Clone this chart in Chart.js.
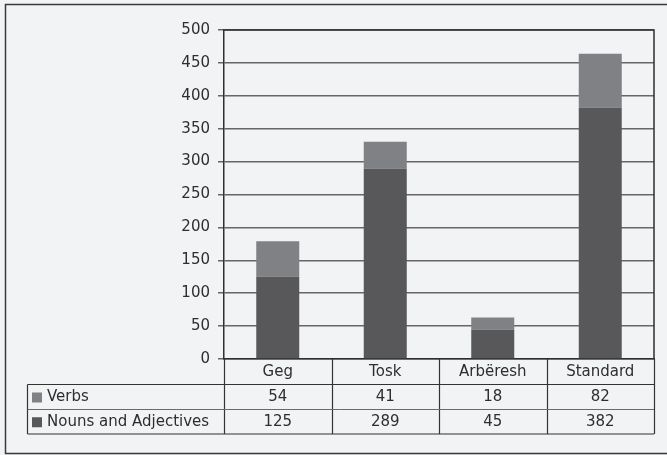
<!DOCTYPE html>
<html>
<head>
<meta charset="utf-8">
<script src="https://cdn.jsdelivr.net/npm/chart.js@4/dist/chart.umd.min.js"></script>
<style>
    body { margin: 0; background: #f2f3f5; }
    canvas { display: block; }
</style>
</head>
<body>
<canvas id="chart" width="667" height="455"></canvas>
<script>
// data
var categories = ["Geg", "Tosk", "Arbëresh", "Standard"];
var verbs = [54, 41, 18, 82];
var nounsAdj = [125, 289, 45, 382];
var yTicks = [0, 50, 100, 150, 200, 250, 300, 350, 400, 450, 500];

var FONT = "DejaVu Sans, Verdana, sans-serif";
var FONT_SIZE = 15;
var TEXT_COLOR = "#2e2e2e";
var VERB_COLOR = "#808184";
var NOUN_COLOR = "#58585a";

//rows of the data table under the chart (top row = Verbs)
var tableRows = [
    { label: "Verbs", color: VERB_COLOR, values: verbs },
    { label: "Nouns and Adjectives", color: NOUN_COLOR, values: nounsAdj }
];

var framePlugin = {
    id: "frame",
    beforeDraw(chart) {
        const ctx = chart.ctx;
        ctx.save();
        ctx.fillStyle = "#f2f3f5";
        ctx.fillRect(0, 0, chart.width, chart.height);
        //outer border
        ctx.strokeStyle = "#3a3a3a";
        ctx.lineWidth = 1.5;
        ctx.strokeRect(5.5, 4.5, chart.width + 10, 449);
        ctx.restore();
    },
    afterDraw(chart) {
        const ctx = chart.ctx;
        const area = chart.chartArea;
        const left = area.left, right = area.right;
        const colW = (right - left) / categories.length;
        const tableLeft = 27.5;
        const rowTops = [384.5, 409.5, 434];

        ctx.save();
        //plot frame (top + right)
        ctx.strokeStyle = "#2f2f2f";
        ctx.lineWidth = 1.5;
        ctx.beginPath();
        ctx.moveTo(left, area.top);
        ctx.lineTo(right, area.top);
        ctx.lineTo(right, area.bottom);
        ctx.stroke();

        //table lines
        ctx.lineWidth = 1.2;
        ctx.strokeStyle = "#333";
        ctx.beginPath();
        ctx.moveTo(tableLeft, rowTops[0]); ctx.lineTo(right, rowTops[0]);
        ctx.moveTo(tableLeft, rowTops[2]); ctx.lineTo(right, rowTops[2]);
        ctx.moveTo(tableLeft, rowTops[0]); ctx.lineTo(tableLeft, rowTops[2]);
        for (var i = 0; i <= categories.length; i++) {
            var x = Math.round(left + i * colW) + 0.5;
            ctx.moveTo(x, area.bottom);
            ctx.lineTo(x, rowTops[2]);
        }
        ctx.stroke();
        ctx.strokeStyle = "#6a6a6a";
        ctx.lineWidth = 1;
        ctx.beginPath();
        ctx.moveTo(tableLeft, rowTops[1]); ctx.lineTo(right, rowTops[1]);
        ctx.stroke();

        //row labels + values
        ctx.font = FONT_SIZE + "px " + FONT;
        ctx.textBaseline = "middle";
        tableRows.forEach((row, r) => {
            var cy = (rowTops[r] + rowTops[r + 1]) / 2 + 0.5;
            ctx.fillStyle = row.color;
            ctx.fillRect(32, cy - 5, 10, 10);
            ctx.fillStyle = TEXT_COLOR;
            ctx.textAlign = "left";
            ctx.fillText(row.label, 47, cy);
            ctx.textAlign = "center";
            row.values.forEach((v, c) => {
                ctx.fillText(String(v), left + (c + 0.5) * colW, cy);
            });
        });
        ctx.restore();
    }
};

new Chart(document.getElementById("chart"), {
    type: "bar",
    data: {
        labels: categories,
        datasets: [
            { label: "Nouns and Adjectives", data: nounsAdj, backgroundColor: NOUN_COLOR },
            { label: "Verbs", data: verbs, backgroundColor: VERB_COLOR }
        ]
    },
    options: {
        responsive: false,
        animation: false,
        layout: { padding: { left: 0, right: 13, top: 30, bottom: 0 } },
        plugins: { legend: { display: false }, tooltip: { enabled: false } },
        datasets: { bar: { categoryPercentage: 0.8, barPercentage: 0.5 } },
        scales: {
            x: {
                stacked: true,
                grid: { display: false, drawTicks: false },
                border: { display: true, color: "#2f2f2f", width: 1.5 },
                ticks: { color: TEXT_COLOR, font: { family: FONT, size: FONT_SIZE }, padding: 4 },
                afterFit(scale) { scale.height = 96; }
            },
            y: {
                stacked: true,
                min: 0,
                max: 500,
                afterBuildTicks(scale) { scale.ticks = yTicks.map(v => ({ value: v })); },
                grid: { color: "#666", lineWidth: 1.5, tickLength: 6 },
                border: { display: true, color: "#2f2f2f", width: 1.5 },
                ticks: { color: TEXT_COLOR, font: { family: FONT, size: FONT_SIZE }, padding: 8 },
                afterFit(scale) { scale.width = 224; }
            }
        }
    },
    plugins: [framePlugin]
});
</script>
</body>
</html>
